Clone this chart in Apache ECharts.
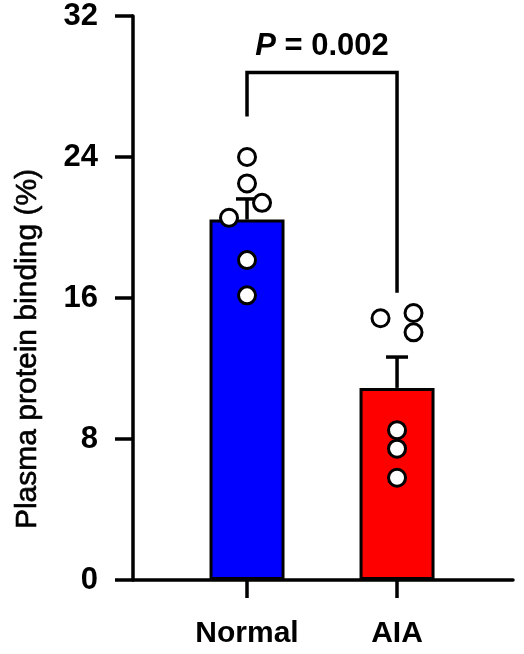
<!DOCTYPE html>
<html lang="en" style="height: 100%">

<head>
  <meta charset="utf-8">
</head>

<body style="height: 100%; margin: 0; background: #fff">
  <div id="container" style="width: 524px; height: 654px;"></div>

  <script type="text/javascript" src="https://cdn.jsdelivr.net/npm/echarts@6/dist/echarts.min.js"></script>
  <script type="text/javascript">
    // groups and their x positions on the value axis
    const groups = ['Normal', 'AIA'];
    const groupX = [0, 1];
    const barColors = ['#0000FF', '#FF0000'];

    // mean and SEM per group
    const means = [20.45, 10.9];
    const sems = [1.17, 1.75];

    // individual points (x jitter around the group, value)
    const normalX = [0, 0, 0.1, -0.12, 0, 0];
    const normalY = [24.0, 22.5, 21.4, 20.55, 18.15, 16.15];
    const aiaX = [-0.11, 0.11, 0.11, 0, 0, 0];
    const aiaY = [14.85, 15.15, 14.05, 8.5, 7.45, 5.8];

    // y ticks
    const yTicks = [0, 8, 16, 24, 32];

    // significance bracket: left end, top, right end
    const bracketY = [26.3, 28.8, 16.3];
    const pText = 'P = 0.002';

    const font = "'Liberation Sans', Arial, sans-serif";

    var dom = document.getElementById('container');
    var myChart = echarts.init(dom, null, { renderer: 'canvas' });

    const barData = groups.map((g, i) => ({
      value: [groupX[i], means[i]],
      itemStyle: { color: barColors[i] }
    }));
    const errData = groups.map((g, i) => [groupX[i], means[i], sems[i]]);
    const dots = normalX.map((x, i) => [groupX[0] + x, normalY[i]])
      .concat(aiaX.map((x, i) => [groupX[1] + x, aiaY[i]]));

    var option = {
      animation: false,
      grid: {
        left: 133,
        right: 11,
        top: 16,
        bottom: 74,
        outerBoundsMode: 'none'
      },
      xAxis: {
        type: 'value',
        min: -0.76,
        max: 1.773,
        splitLine: { show: false },
        axisLine: { show: true, onZero: false, lineStyle: { color: '#000', width: 3.5 } },
        axisTick: { show: true, customValues: groupX, length: 18, lineStyle: { color: '#000', width: 3.5 } },
        axisLabel: {
          customValues: groupX,
          formatter: v => groups[groupX.indexOf(v)],
          margin: 39,
          color: '#000',
          fontSize: 30,
          fontWeight: 'bold',
          fontFamily: font
        }
      },
      yAxis: {
        type: 'value',
        min: yTicks[0],
        max: yTicks[yTicks.length - 1],
        interval: 8,
        splitLine: { show: false },
        axisLine: { show: true, onZero: false, lineStyle: { color: '#000', width: 3.5 } },
        axisTick: { show: true, length: 18, lineStyle: { color: '#000', width: 3.5 } },
        axisLabel: {
          margin: 35,
          color: '#000',
          fontSize: 31,
          fontWeight: 'bold',
          fontFamily: font
        },
        name: 'Plasma protein binding (%)',
        nameLocation: 'middle',
        nameGap: 90,
        nameTextStyle: {
          color: '#000',
          fontSize: 30,
          fontFamily: font,
          textBorderColor: '#000',
          textBorderWidth: 0.6,
          padding: [0, 102, 0, 0]
        }
      },
      series: [
        {
          type: 'bar',
          data: barData,
          barWidth: 75,
          z: 2,
          itemStyle: { borderColor: '#000', borderWidth: 3 }
        },
        {
          type: 'custom',
          z: 3,
          data: errData,
          encode: { x: 0, y: [1, 2] },
          renderItem: function (params, api) {
            const x = api.value(0), m = api.value(1), s = api.value(2);
            const p0 = api.coord([x, m]);
            const p1 = api.coord([x, m + s]);
            const st = { stroke: '#000', lineWidth: 3.5 };
            return {
              type: 'group',
              children: [
                { type: 'line', shape: { x1: p0[0], y1: p0[1], x2: p1[0], y2: p1[1] }, style: st },
                { type: 'line', shape: { x1: p1[0] - 11, y1: p1[1], x2: p1[0] + 11, y2: p1[1] }, style: st }
              ]
            };
          }
        },
        {
          type: 'scatter',
          z: 4,
          data: dots,
          symbol: 'circle',
          symbolSize: 17,
          itemStyle: { color: '#fff', borderColor: '#000', borderWidth: 3, opacity: 1 }
        },
        {
          type: 'custom',
          z: 5,
          data: [[groupX[0], groupX[1], bracketY[0], bracketY[1], bracketY[2]]],
          encode: { x: [0, 1], y: [2, 3, 4] },
          renderItem: function (params, api) {
            const a = api.coord([api.value(0), api.value(2)]);
            const t1 = api.coord([api.value(0), api.value(3)]);
            const t2 = api.coord([api.value(1), api.value(3)]);
            const b = api.coord([api.value(1), api.value(4)]);
            return {
              type: 'group',
              children: [
                {
                  type: 'polyline',
                  shape: { points: [a, t1, t2, b] },
                  style: { stroke: '#000', lineWidth: 3.5, fill: null }
                },
                {
                  type: 'text',
                  x: (t1[0] + t2[0]) / 2,
                  y: t1[1] - 10,
                  style: {
                    text: '{i|P}' + pText.slice(1),
                    align: 'center',
                    verticalAlign: 'bottom',
                    fill: '#000',
                    font: 'bold 31px ' + font,
                    rich: {
                      i: { fontStyle: 'italic', fontWeight: 'bold', fontSize: 31, fontFamily: font }
                    }
                  }
                }
              ]
            };
          }
        }
      ]
    };

    myChart.setOption(option);
    window.addEventListener('resize', myChart.resize);
  </script>
</body>

</html>
